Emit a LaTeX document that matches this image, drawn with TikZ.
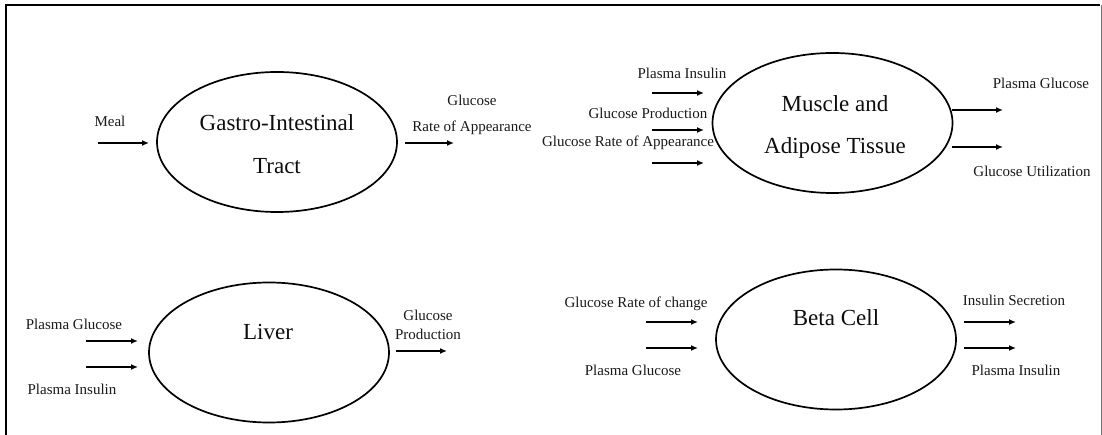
\documentclass[tikz,border=0pt]{standalone}
\usepackage{fontspec}
\setmainfont{Liberation Serif}
\usetikzlibrary{shapes.geometric,arrows.meta}
\begin{document}
\begin{tikzpicture}[x=1pt,y=-1pt,
  organ/.style={ellipse,draw,line width=1.7pt,minimum width=240pt,minimum height=140pt,inner sep=0pt},
  ttl/.style={font=\fontsize{23}{27}\selectfont,text=black!95,inner sep=0pt},
  lbl/.style={font=\fontsize{15}{18}\selectfont,text=black!90,inner sep=0pt},
  flow/.style={line width=2pt,-{Latex[length=7pt,width=6pt]}}]
\useasboundingbox (0,0) rectangle (1102,435);

% open frame
\draw[line width=2pt] (6,440) -- (6,5) -- (1100,5);
\draw[line width=1pt,black!55] (1101,5) -- (1101,440);

% organs
\node[organ] (gi) at (277,142) {};
\node[organ] (mus) at (832.5,123) {};
\node[organ] (liv) at (269,352.5) {};
\node[organ] (beta) at (836,339.5) {};

\node[ttl] (gi-t1) at (277,123) {Gastro-Intestinal};
\node[ttl] (gi-t2) at (277,166) {Tract};
\node[ttl] (mus-t1) at (835,104) {Muscle and};
\node[ttl] (mus-t2) at (835,148) {Adipose Tissue};
\node[ttl] (liv-t) at (268,332) {Liver};
\node[ttl] (beta-t) at (836,318) {Beta Cell};

% gastro-intestinal tract
\coordinate (gi-in-a) at (98,143);  \coordinate (gi-in-b) at (149,143);
\coordinate (gi-out-a) at (405,143); \coordinate (gi-out-b) at (454,143);
\draw[flow] (gi-in-a) -- (gi-in-b);
\draw[flow] (gi-out-a) -- (gi-out-b);
\node[lbl] (meal) at (110,121) {Meal};
\node[lbl] (gi-o1) at (472,100) {Glucose};
\node[lbl] (gi-o2) at (472,128) {Rate of Appearance};

% muscle and adipose tissue
\coordinate (mus-in1-a) at (652,93);  \coordinate (mus-in1-b) at (704,93);
\coordinate (mus-in2-a) at (652,130); \coordinate (mus-in2-b) at (704,130);
\coordinate (mus-in3-a) at (652,163); \coordinate (mus-in3-b) at (704,163);
\coordinate (mus-out1-a) at (952,110); \coordinate (mus-out1-b) at (1003,110);
\coordinate (mus-out2-a) at (952,147); \coordinate (mus-out2-b) at (1003,147);
\draw[flow] (mus-in1-a) -- (mus-in1-b);
\draw[flow] (mus-in2-a) -- (mus-in2-b);
\draw[flow] (mus-in3-a) -- (mus-in3-b);
\draw[flow] (mus-out1-a) -- (mus-out1-b);
\draw[flow] (mus-out2-a) -- (mus-out2-b);
\node[lbl] (mus-i1) at (682,73) {Plasma Insulin};
\node[lbl] (mus-i2) at (648,113) {Glucose Production};
\node[lbl] (mus-i3) at (628,143) {Glucose Rate of Appearance};
\node[lbl] (mus-o1) at (1041,83) {Plasma Glucose};
\node[lbl] (mus-o2) at (1032,171) {Glucose Utilization};

% liver
\coordinate (liv-in1-a) at (86,341); \coordinate (liv-in1-b) at (138,341);
\coordinate (liv-in2-a) at (86,367); \coordinate (liv-in2-b) at (138,367);
\coordinate (liv-out-a) at (396,351); \coordinate (liv-out-b) at (447,351);
\draw[flow] (liv-in1-a) -- (liv-in1-b);
\draw[flow] (liv-in2-a) -- (liv-in2-b);
\draw[flow] (liv-out-a) -- (liv-out-b);
\node[lbl] (liv-i1) at (74,324) {Plasma Glucose};
\node[lbl] (liv-i2) at (72,389) {Plasma Insulin};
\node[lbl] (liv-o1) at (428,315) {Glucose};
\node[lbl] (liv-o2) at (428,334) {Production};

% beta cell
\coordinate (beta-in1-a) at (646,322); \coordinate (beta-in1-b) at (698,322);
\coordinate (beta-in2-a) at (646,348); \coordinate (beta-in2-b) at (698,348);
\coordinate (beta-out1-a) at (964,322); \coordinate (beta-out1-b) at (1016,322);
\coordinate (beta-out2-a) at (964,348); \coordinate (beta-out2-b) at (1016,348);
\draw[flow] (beta-in1-a) -- (beta-in1-b);
\draw[flow] (beta-in2-a) -- (beta-in2-b);
\draw[flow] (beta-out1-a) -- (beta-out1-b);
\draw[flow] (beta-out2-a) -- (beta-out2-b);
\node[lbl] (beta-i1) at (636,304) {Glucose Rate of change};
\node[lbl] (beta-i2) at (633,370) {Plasma Glucose};
\node[lbl] (beta-o1) at (1014,300) {Insulin Secretion};
\node[lbl] (beta-o2) at (1016,370) {Plasma Insulin};
\end{tikzpicture}
\end{document}
